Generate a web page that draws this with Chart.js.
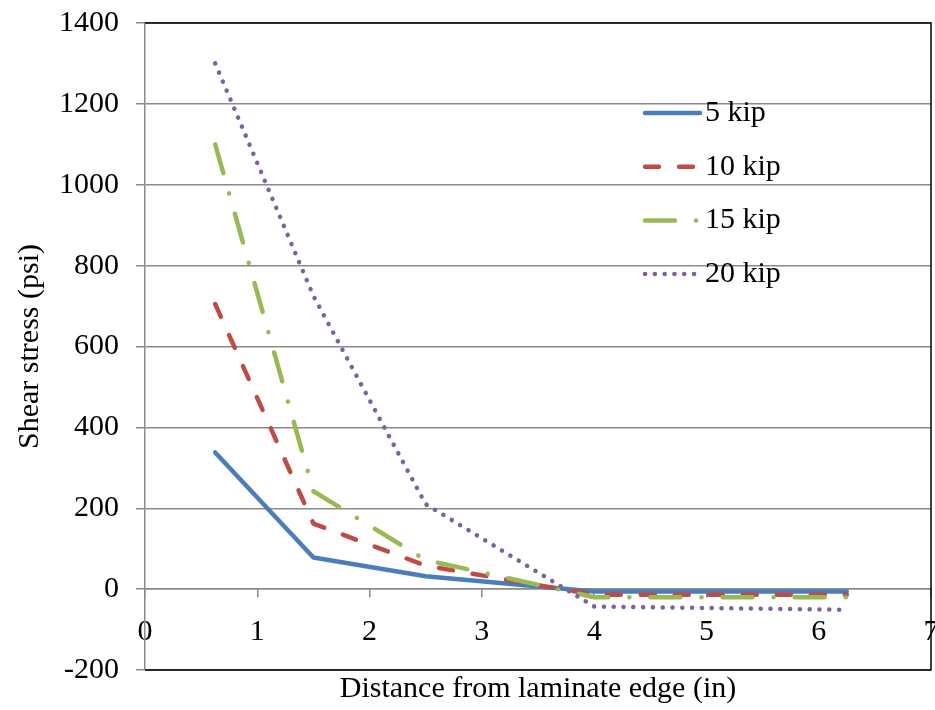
<!DOCTYPE html>
<html>
<head>
<meta charset="utf-8">
<script src="https://cdn.jsdelivr.net/npm/chart.js@4.4.1/dist/chart.umd.min.js"></script>
<style>
  html, body { margin: 0; padding: 0; background: #fff; }
  #wrap { width: 935px; height: 710px; }
</style>
</head>
<body>
<div id="wrap"><canvas id="chart1" width="935" height="710"></canvas></div>
<script>
// distance from laminate edge (in)
const distances = [0.625, 1.5, 2.5, 4, 6.25];
// shear stress (psi) per load
const kip5 = [338, 78, 32, -6, -6];
const kip10 = [705, 162, 58, -14, -14];
const kip15 = [1100, 242, 72, -20, -20];
const kip20 = [1300, 725, 210, -43, -51];
const seriesNames = ['5 kip', '10 kip', '15 kip', '20 kip'];

const serif = '"Liberation Serif", "Times New Roman", serif';
Chart.defaults.font.family = serif;
Chart.defaults.font.size = 30;
Chart.defaults.color = '#000';

const gridGray = '#8a8a8a';

function pts(vals) {
    return distances.map((d, i) => ({ x: d, y: vals[i] }));
}

function noPad(s) {
    s.paddingLeft = 0;
    s.paddingRight = 0;
    s.paddingTop = 0;
    s.paddingBottom = 0;
}

// black frame on top, right and bottom of the plot area
const frame = {
    id: 'frame',
    beforeDatasetsDraw(chart) {
        const { ctx, chartArea: a } = chart;
        ctx.save();
        ctx.strokeStyle = '#000';
        ctx.lineWidth = 1.5;
        ctx.beginPath();
        ctx.moveTo(a.left, a.top);
        ctx.lineTo(a.right, a.top);
        ctx.lineTo(a.right, a.bottom);
        ctx.lineTo(a.left, a.bottom);
        ctx.stroke();
        ctx.restore();
    }
};

// legend inside the plot, with line samples
const lineLegend = {
    id: 'lineLegend',
    afterDatasetsDraw(chart) {
        const ctx = chart.ctx;
        const a = chart.chartArea;
        const x0 = a.left + 500, x1 = a.left + 555, tx = a.left + 560;
        chart.data.datasets.forEach((ds, i) => {
            const y = a.top + 90 + i * 53.7;
            ctx.save();
            ctx.strokeStyle = ds.borderColor;
            ctx.lineWidth = ds.borderWidth;
            ctx.lineCap = ds.borderCapStyle;
            ctx.setLineDash(ds.borderDash || []);
            ctx.beginPath();
            ctx.moveTo(x0, y);
            ctx.lineTo(x1, y);
            ctx.stroke();
            ctx.setLineDash([]);
            ctx.fillStyle = '#000';
            ctx.font = '30px ' + serif;
            ctx.textBaseline = 'middle';
            ctx.fillText(ds.label, tx, y);
            ctx.restore();
        });
    }
};

const ctx1 = document.getElementById('chart1').getContext('2d');

new Chart(ctx1, {
    type: 'line',
    data: {
        datasets: [{
            label: seriesNames[0],
            data: pts(kip5),
            borderColor: '#4a7ebb',
            borderWidth: 4.5,
            borderCapStyle: 'round',
            borderJoinStyle: 'round',
            order: 4
        }, {
            label: seriesNames[1],
            data: pts(kip10),
            borderColor: '#be4b48',
            borderWidth: 4.5,
            borderDash: [14, 20],
            borderCapStyle: 'round',
            borderJoinStyle: 'round',
            order: 3
        }, {
            label: seriesNames[2],
            data: pts(kip15),
            borderColor: '#98b954',
            borderWidth: 4.5,
            borderDash: [30, 21, 0.1, 21],
            borderCapStyle: 'round',
            borderJoinStyle: 'round',
            order: 2
        }, {
            label: seriesNames[3],
            data: pts(kip20),
            borderColor: '#7d60a0',
            borderWidth: 4.5,
            borderDash: [0.1, 9.7],
            borderCapStyle: 'round',
            borderJoinStyle: 'round',
            order: 1
        }]
    },
    options: {
        responsive: false,
        animation: false,
        elements: {
            point: { radius: 0, hoverRadius: 0 },
            line: { tension: 0 }
        },
        layout: {
            padding: { top: 23, right: 4, left: 0, bottom: 0 }
        },
        plugins: {
            legend: { display: false },
            tooltip: { enabled: false }
        },
        scales: {
            x: {
                type: 'linear',
                min: 0,
                max: 7,
                ticks: { display: false },
                grid: { display: false },
                border: { display: false },
                title: {
                    display: true,
                    text: 'Distance from laminate edge (in)',
                    padding: { top: 0, bottom: 3 }
                },
                afterFit(s) { s.height = 40; noPad(s); }
            },
            x0: {
                type: 'linear',
                axis: 'x',
                position: { y: 0 },
                min: 0,
                max: 7,
                ticks: { stepSize: 1, padding: 17, callback: v => String(v) },
                grid: {
                    drawOnChartArea: false,
                    drawTicks: true,
                    tickLength: 8,
                    color: gridGray,
                    lineWidth: 1.5
                },
                border: { color: gridGray, width: 1.5 },
                afterFit: noPad
            },
            y: {
                type: 'linear',
                min: -200,
                max: 1400,
                ticks: { stepSize: 200, padding: 17, callback: v => String(v) },
                grid: {
                    color: gridGray,
                    lineWidth: 1.5,
                    tickLength: 9
                },
                border: { color: gridGray, width: 1.5 },
                title: {
                    display: true,
                    text: 'Shear stress (psi)',
                    padding: { top: 12, bottom: 0 }
                },
                afterFit(s) { s.width = 145; noPad(s); }
            }
        }
    },
    plugins: [frame, lineLegend]
});
</script>
</body>
</html>
